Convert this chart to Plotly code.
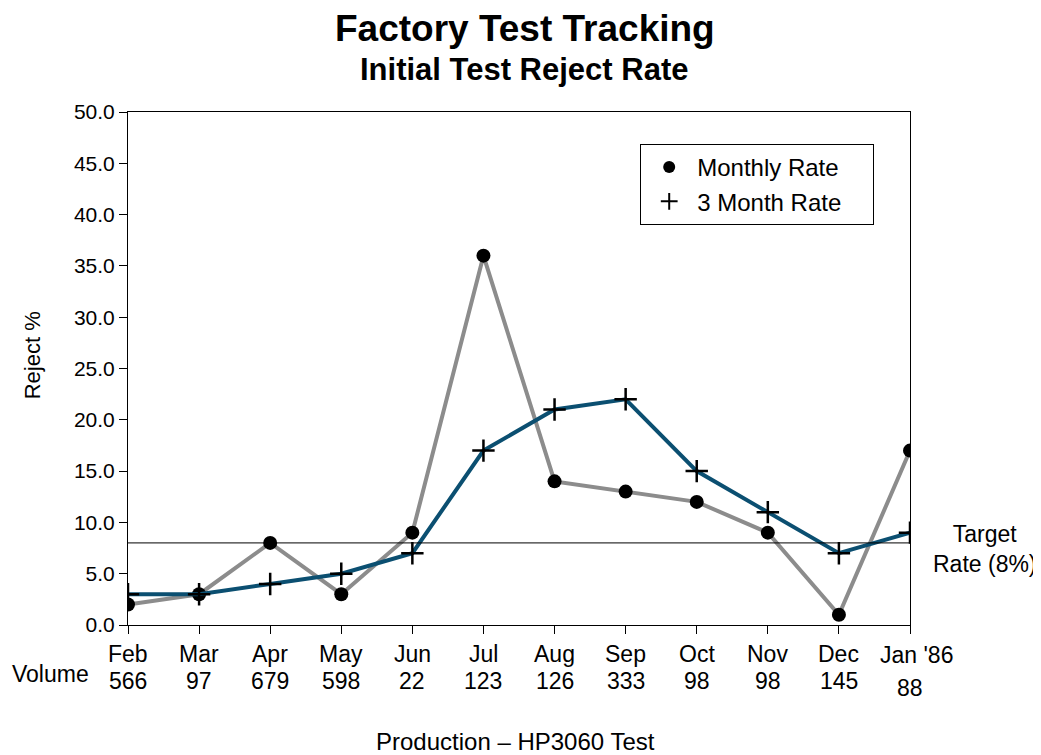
import plotly.graph_objects as go

months = ["Feb", "Mar", "Apr", "May", "Jun", "Jul", "Aug", "Sep", "Oct", "Nov", "Dec", "Jan '86"]
volume = ["566", "97", "679", "598", "22", "123", "126", "333", "98", "98", "145", "88"]
monthly_rate = [2, 3, 8, 3, 9, 36, 14, 13, 12, 9, 1, 17]
three_month_rate = [3, 3, 4, 5, 7, 17, 21, 22, 15, 11, 7, 9]
target_rate = 8
ytick_vals = [0, 5, 10, 15, 20, 25, 30, 35, 40, 45, 50]

xs = list(range(len(months)))
FONT = "Liberation Sans, Arial, sans-serif"
TXT = 22
PAD = "\u00a0" * 4

fig = go.Figure()
fig.add_trace(go.Scatter(
    x=xs, y=monthly_rate, mode="lines+markers",
    line=dict(color="#8c8c8c", width=4),
    marker=dict(symbol="circle", size=14, color="black"),
    showlegend=False, cliponaxis=True))
fig.add_trace(go.Scatter(
    x=xs, y=three_month_rate, mode="lines+markers",
    line=dict(color="#0b4f71", width=4),
    marker=dict(symbol="cross-thin", size=16, color="black",
                line=dict(color="black", width=2.5)),
    showlegend=False, cliponaxis=True))
# legend entries (markers only)
fig.add_trace(go.Scatter(x=[None], y=[None], mode="markers", name="Monthly Rate" + PAD,
                         marker=dict(symbol="circle", size=12, color="black")))
fig.add_trace(go.Scatter(x=[None], y=[None], mode="markers", name="3 Month Rate" + PAD,
                         marker=dict(symbol="cross-thin", size=12, color="black",
                                     line=dict(color="black", width=3.5))))

fig.add_shape(type="line", xref="x", yref="y", x0=0, x1=len(months) - 1,
              y0=target_rate, y1=target_rate, line=dict(color="black", width=1))

def ann(text, x, y, xref="paper", yref="paper", size=TXT, **kw):
    fig.add_annotation(text=text, x=x, y=y, xref=xref, yref=yref, showarrow=False,
                       xanchor=kw.pop("xanchor", "center"), yanchor=kw.pop("yanchor", "middle"),
                       font=dict(family=FONT, size=size, color="black"), **kw)

ann("<b>Factory Test Tracking</b>", 0.5077, 1.1637, size=37)
ann("<b>Initial Test Reject Rate</b>", 0.5064, 1.0819, size=31)
ann("Target<br>Rate (8%)", 1.096, target_rate, yref="y", yshift=-6, align="center", size=23)
ann("Volume", -0.0997, -0.0955, size=23)
ann("Reject %", -0.1226, 0.526, textangle=-90, size=22)
ann("Production – HP3060 Test", 0.4949, -0.227, size=24)

for i, (m, v) in enumerate(zip(months, volume)):
    if i == len(months) - 1:
        ann(m, i, -0.0585, xref="x", xshift=6, size=23)
        ann(v, i, -0.1228, xref="x", size=23)
    else:
        ann(m, i, -0.0565, xref="x", size=23)
        ann(v, i, -0.109, xref="x", size=23)

fig.update_layout(
    width=1041, height=755,
    margin=dict(l=120, r=139, t=104, b=138),
    paper_bgcolor="white", plot_bgcolor="white",
    font=dict(family=FONT, size=TXT, color="black"),
    legend=dict(x=0.655, y=0.9376, xanchor="left", yanchor="top",
                bordercolor="black", borderwidth=1, bgcolor="white",
                font=dict(family=FONT, size=24, color="black"),
                itemsizing="constant", tracegroupgap=0, itemwidth=46),
    xaxis=dict(range=[0, len(months) - 1], tickvals=xs, ticktext=[""] * len(xs),
               showgrid=False, zeroline=False, showline=True, linecolor="black",
               linewidth=1, mirror=True, ticks="outside", ticklen=8,
               tickcolor="black"),
    yaxis=dict(range=[0, 50], tickvals=ytick_vals, tickformat=".1f",
               showgrid=False, zeroline=False, showline=True, linecolor="black",
               linewidth=1, mirror=True, ticks="outside", ticklen=8,
               tickcolor="black", tickfont=dict(family=FONT, size=21)),
)

fig.write_html("out.html")
